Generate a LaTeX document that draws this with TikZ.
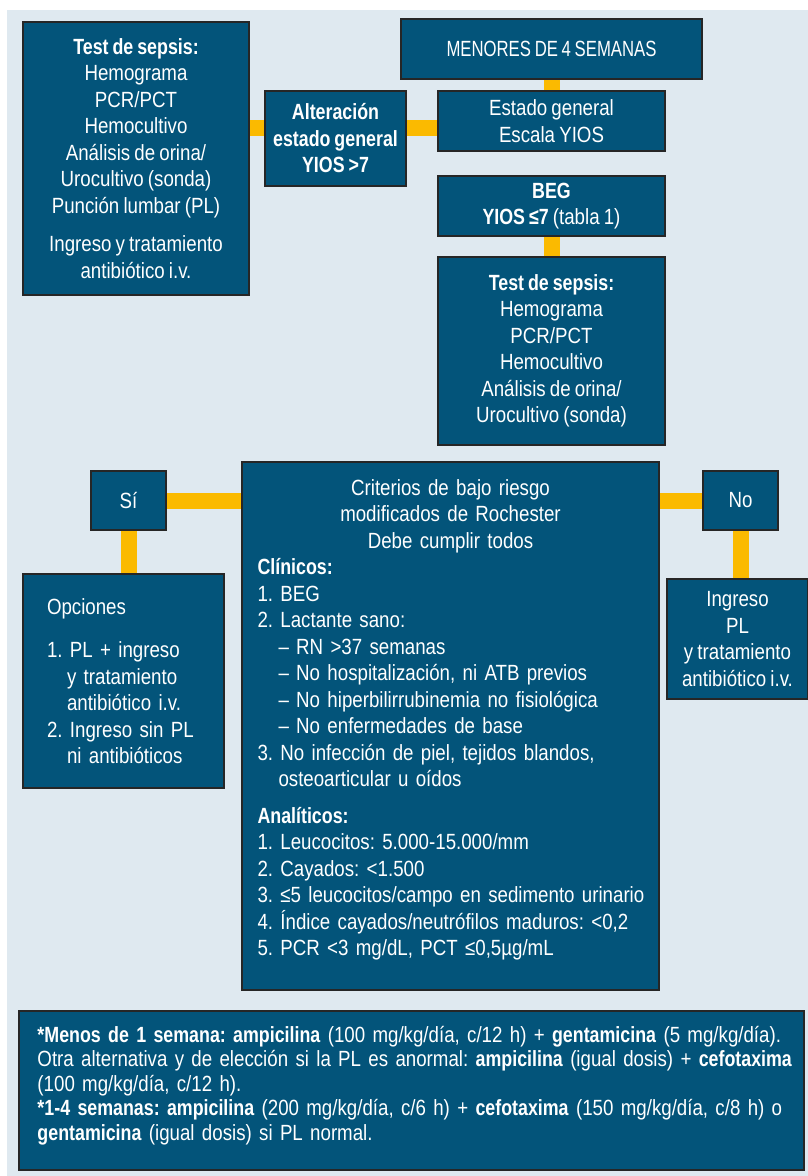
\documentclass[tikz,border=0pt]{standalone}
\usepackage{fontspec}
\setmainfont{Liberation Sans}[FakeStretch=0.85,WordSpace=0.8,
    BoldFeatures={FakeStretch=0.81}]
\newfontfamily\capsfont{Liberation Sans}[FakeStretch=0.76,WordSpace=0.8]
\frenchspacing
\usetikzlibrary{backgrounds}
\definecolor{panelbg}{HTML}{DFE9F0}
\definecolor{boxblue}{HTML}{03547A}
\definecolor{linkyellow}{HTML}{FBBA00}

\begin{document}
\begin{tikzpicture}[x=1pt,y=-1pt,
        box/.style={draw=black!85,line width=1.2pt,fill=boxblue,text=white,
            align=center,inner sep=0pt,font=\fontsize{22}{26.5}\selectfont},
        link/.style={draw=linkyellow,line width=16pt}]
\useasboundingbox (0,0) rectangle (808,1176);

% top part
\node[box,minimum width=226,minimum height=273] (testL) at (136,158.5)
    {\bfseries Test de sepsis:\\Hemograma\\PCR/PCT\\Hemocultivo\\Análisis de orina/\\Urocultivo (sonda)\\Punción lumbar (PL)\\[12pt]Ingreso y tratamiento\\antibiótico i.v.};
\node[box,minimum width=301,minimum height=60] (menores) at (551.5,49) {\capsfont MENORES DE 4 SEMANAS};
\node[box,minimum width=227,minimum height=60] (estado) at (551.5,121) {Estado general\\Escala YIOS};
\node[box,minimum width=141,minimum height=95] (alt) at (335.5,138.5)
    {\bfseries Alteración\\\bfseries estado general\\\bfseries YIOS >7};
\node[box,minimum width=227,minimum height=60] (beg) at (551.5,206)
    {\bfseries BEG\\\textbf{YIOS ≤7} (tabla 1)};
\node[box,minimum width=227,minimum height=188] (testR) at (551.5,351)
    {\bfseries Test de sepsis:\\Hemograma\\PCR/PCT\\Hemocultivo\\Análisis de orina/\\Urocultivo (sonda)};

% criterios
\node[box,minimum width=417,minimum height=528,text width=392,inner xsep=12.5,align=left] (crit) at (450.5,726)
    {{\centering Criterios de bajo riesgo\\modificados de Rochester\\Debe cumplir todos\par}
    \hspace*{3pt}\textbf{Clínicos:}\\
    \hspace*{3pt}1. BEG\\
    \hspace*{3pt}2. Lactante sano:\\
    \hspace*{24pt}– RN >37 semanas\\
    \hspace*{24pt}– No hospitalización, ni ATB previos\\
    \hspace*{24pt}– No hiperbilirrubinemia no fisiológica\\
    \hspace*{24pt}– No enfermedades de base\\
    \hspace*{3pt}3. No infección de piel, tejidos blandos,\\
    \hspace*{24pt}osteoarticular u oídos\\[10pt]
    \hspace*{3pt}\textbf{Analíticos:}\\
    \hspace*{3pt}1. Leucocitos: 5.000-15.000/mm\\
    \hspace*{3pt}2. Cayados: <1.500\\
    \hspace*{3pt}3. ≤5 leucocitos/campo en sedimento urinario\\
    \hspace*{3pt}4. Índice cayados/neutrófilos maduros: <0,2\\
    \hspace*{3pt}5. PCR <3 mg/dL, PCT ≤0,5µg/mL\par\vspace*{12pt}};
\node[box,minimum width=75,minimum height=59] (si) at (128.5,500.5) {Sí};
\node[box,minimum width=75,minimum height=59] (no) at (740.5,500.5) {No};
\node[box,minimum width=201,minimum height=214,text width=153,align=left] (opc) at (123.5,681)
    {Opciones\\[17pt]
    1. PL + ingreso\\
    \hspace*{20pt}y tratamiento\\
    \hspace*{20pt}antibiótico i.v.\\
    2. Ingreso sin PL\\
    \hspace*{20pt}ni antibióticos};
\node[box,minimum width=141,minimum height=120] (ing) at (737.5,639)
    {Ingreso\\PL\\y tratamiento\\antibiótico i.v.};

% nota
\node[box,minimum width=785,minimum height=159,text width=770,inner xsep=7.5,align=left,
    font=\fontsize{22}{24.5}\selectfont] (nota) at (411.5,1090.5)
    {\hspace*{11pt}\textbf{*Menos de 1 semana: ampicilina} (100 mg/kg/día, c/12 h) + \textbf{gentamicina} (5 mg/kg/día).\\
    \hspace*{11pt}Otra alternativa y de elección si la PL es anormal: \textbf{ampicilina} (igual dosis) + \textbf{cefotaxima}\\
    \hspace*{11pt}(100 mg/kg/día, c/12 h).\\
    \hspace*{11pt}\textbf{*1-4 semanas: ampicilina} (200 mg/kg/día, c/6 h) + \textbf{cefotaxima} (150 mg/kg/día, c/8 h) o\\
    \hspace*{11pt}\textbf{gentamicina} (igual dosis) si PL normal.\par\vspace*{10pt}};

\begin{pgfonlayer}{background}
\fill[panelbg] (7,10) rectangle (808,1176);
\coordinate (j1) at (420,128);
\draw[link] (testL.east |- j1) -- (estado.west |- j1);
\draw[link] (menores.south) -- (estado.north);
\draw[link] (beg.south) -- (testR.north);
\draw[link] (si.east) -- (si.east -| crit.west);
\draw[link] (si.south) -- (si.south |- opc.north);
\draw[link] (no.west) -- (no.west -| crit.east);
\draw[link] (no.south) -- (no.south |- ing.north);
\end{pgfonlayer}

\end{tikzpicture}
\end{document}
